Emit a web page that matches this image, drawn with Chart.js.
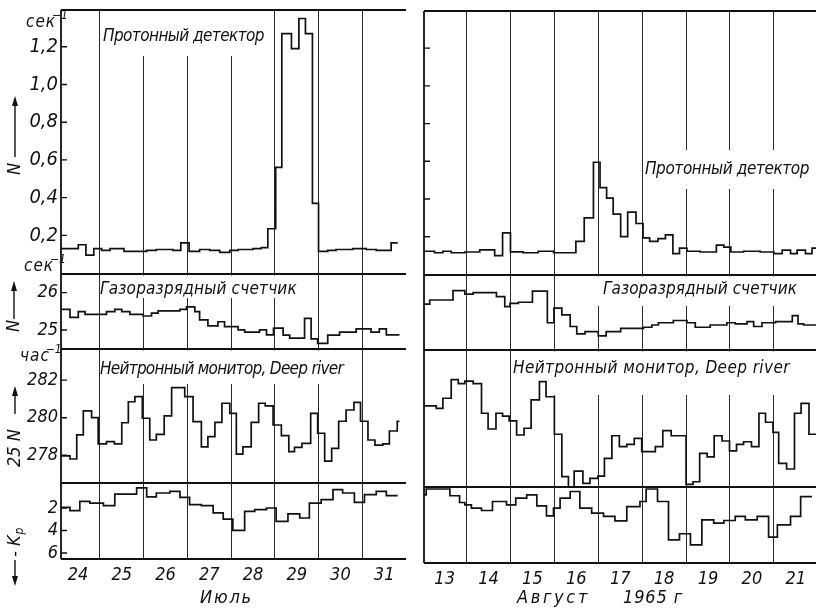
<!DOCTYPE html>
<html><head><meta charset="utf-8">
<script src="https://cdn.jsdelivr.net/npm/chart.js@4"></script>
<style>
html,body{margin:0;padding:0;background:#fff;}
body{width:816px;height:613px;position:relative;overflow:hidden;}
canvas{position:absolute;}
</style></head><body>
<script>
// ---------- data (x in calendar days, bins given by edges) ----------
const julyDayLabels = ['24','25','26','27','28','29','30','31'];
const augustDayLabels = ['13','14','15','16','17','18','19','20','21'];
const julyDayBoundaries = [25,26,27,28,29,30,31];
const augustDayBoundaries = [14,15,16,17,18,19,20,21];

const protonTickValues = [0.2,0.4,0.6,0.8,1.0,1.2];
const protonTickLabels = ['0,2','0,4','0,6','0,8','1,0','1,2'];
const gasTickValues = [25,26];
const gasTickLabels = ['25','26'];
const neutronTickValues = [278,280,282];
const neutronTickLabels = ['278','280','282'];
const kpTickValues = [2,4,6];
const kpTickLabels = ['2','4','6'];

// July — proton detector (sec^-1)
const julyProtonT = [24.11,24.505,24.68,24.86,25.04,25.23,25.55,26.07,26.29,26.67,26.85,27.04,27.28,27.51,27.74,27.97,28.16,28.5,28.69,28.84,29.02,29.16,29.38,29.55,29.70,29.86,30.0,30.21,30.40,30.78,31.09,31.32,31.66,31.81];
const julyProtonN = [0.13,0.15,0.095,0.13,0.12,0.13,0.115,0.12,0.125,0.12,0.16,0.115,0.125,0.12,0.11,0.12,0.125,0.13,0.135,0.235,0.56,1.27,1.19,1.35,1.27,0.37,0.115,0.12,0.125,0.13,0.125,0.12,0.16];
// August — proton detector
const augProtonT = [13.03,13.27,13.46,13.65,13.96,14.30,14.64,14.82,15.0,15.29,15.63,15.98,16.49,16.68,16.89,17.04,17.19,17.34,17.51,17.67,17.86,18.02,18.17,18.36,18.53,18.70,18.85,19.02,19.32,19.69,19.86,20.02,20.31,20.69,21.0,21.19,21.38,21.53,21.72,21.87,21.96];
const augProtonN = [0.123,0.115,0.123,0.115,0.119,0.13,0.10,0.22,0.12,0.115,0.123,0.115,0.175,0.30,0.595,0.46,0.405,0.32,0.20,0.33,0.27,0.194,0.175,0.19,0.21,0.11,0.14,0.123,0.119,0.155,0.145,0.119,0.123,0.119,0.11,0.129,0.11,0.129,0.11,0.14];

// Gas-discharge counter
const julyGasT = [24.11,24.315,24.505,24.66,25.15,25.34,25.50,25.685,25.99,26.18,26.33,26.83,26.98,27.17,27.28,27.47,27.70,27.85,28.16,28.31,28.65,28.81,28.97,29.19,29.34,29.68,29.83,29.98,30.21,30.48,30.86,31.20,31.39,31.55,31.85];
const julyGasN = [25.55,25.34,25.49,25.42,25.49,25.55,25.49,25.42,25.375,25.45,25.51,25.55,25.62,25.49,25.27,25.11,25.22,25.09,25.0,24.94,25.0,24.87,25.05,24.86,24.78,25.31,24.76,24.64,24.86,24.94,25.03,24.94,25.03,24.87];
const augGasT = [13.03,13.16,13.69,13.96,14.15,14.68,14.87,14.99,15.18,15.50,15.84,15.99,16.17,16.36,16.51,16.70,17.0,17.18,17.51,18.03,18.22,18.37,18.71,19.02,19.21,19.55,19.93,20.12,20.39,20.54,20.73,21.04,21.42,21.55,21.68,21.96];
const augGasN = [25.72,25.83,26.08,25.99,26.03,25.92,25.65,25.74,25.77,26.07,25.22,25.61,25.43,25.12,24.92,24.98,24.87,24.98,25.07,25.1,25.16,25.22,25.28,25.22,25.1,25.16,25.22,25.19,25.25,25.12,25.22,25.25,25.41,25.19,25.16];

// Neutron monitor, Deep River (25 N, hour^-1)
const julyNeutronT = [24.11,24.315,24.47,24.62,24.81,24.96,25.15,25.33,25.50,25.65,25.80,25.97,26.14,26.29,26.47,26.64,26.94,27.13,27.32,27.47,27.63,27.79,27.97,28.12,28.27,28.46,28.63,28.78,28.96,29.15,29.32,29.45,29.62,29.82,29.98,30.14,30.30,30.46,30.63,30.81,30.96,31.13,31.29,31.47,31.62,31.80,31.85];
const julyNeutronN = [277.96,277.8,279.08,280.36,280.0,278.6,278.72,278.6,279.73,280.85,281.12,279.97,278.81,279.11,280.1,281.6,281.12,279.79,278.45,278.99,279.75,280.77,280.23,278.06,278.45,279.75,280.77,280.63,279.61,279.04,278.19,278.42,278.63,280.23,279.17,277.69,278.37,279.81,280.41,280.82,279.81,278.81,278.54,278.6,279.29,279.81];
const augNeutronT = [13.03,13.31,13.46,13.65,13.81,13.96,14.15,14.34,14.49,14.67,14.82,14.97,15.14,15.31,15.47,15.66,15.81,16.0,16.17,16.32,16.45,16.65,16.81,16.99,17.14,17.31,17.48,17.65,17.82,17.99,18.30,18.47,18.66,19.0,19.16,19.31,19.48,19.64,19.82,19.99,20.15,20.31,20.49,20.66,20.81,20.98,21.11,21.29,21.47,21.62,21.80,21.96];
const augNeutronN = [280.75,280.62,281.16,282.15,281.94,282.07,281.94,280.36,279.52,280.36,280.21,279.95,279.2,279.56,281.07,282.04,281.24,279.24,276.98,276.44,277.28,276.62,276.89,277.01,277.96,279.16,278.58,278.7,279.02,278.31,278.58,279.43,279.16,276.57,276.71,278.22,278.04,279.16,278.88,278.35,278.7,278.84,278.58,280.36,279.88,279.34,277.69,277.39,280.36,280.89,279.24];

// Kp index
const julyKpT = [24.11,24.315,24.54,24.77,25.08,25.34,25.84,26.07,26.29,26.60,26.83,27.05,27.32,27.59,27.82,28.04,28.31,28.54,28.81,29.03,29.30,29.57,29.79,30.06,30.33,30.55,30.82,31.05,31.32,31.55,31.81];
const julyKp = [1.94,2.24,1.41,1.56,1.79,0.76,0.22,1.02,0.67,0.52,1.05,1.70,1.79,2.44,2.98,3.99,2.30,2.15,2.0,3.19,2.53,2.89,1.56,1.26,0.37,0.67,1.5,0.81,0.52,0.9];
const augKpT = [13.03,13.08,13.62,13.84,13.96,14.11,14.34,14.59,14.91,15.12,15.37,15.60,15.82,15.98,16.13,16.36,16.58,16.85,17.12,17.38,17.65,17.95,18.09,18.35,18.60,18.85,19.10,19.36,19.63,19.86,20.12,20.35,20.62,20.88,21.08,21.38,21.61,21.87];
const augKp = [0.52,0.0,0.6,1.2,1.41,1.7,1.91,1.11,1.41,0.81,0.52,1.49,2.38,1.7,0.81,0.22,1.7,2.15,2.44,2.83,1.56,1.11,0.0,1.11,4.52,3.98,4.96,2.74,3.04,2.8,2.44,2.74,2.44,4.28,3.18,2.44,0.67];

// ---------- drawing ----------
const FONT = '"Liberation Sans Narrow","DejaVu Sans Condensed","Liberation Sans","DejaVu Sans",sans-serif';
Chart.defaults.font.family = FONT;
Chart.defaults.font.style = 'italic';
Chart.defaults.color = '#111';

function steps(T, V) {
  const pts = [];
  for (let i = 0; i < V.length; i++) { pts.push({x: T[i], y: V[i]}); pts.push({x: T[i+1], y: V[i]}); }
  return pts;
}
function fitText(ctx, str, x0, x1, cy, size) {
  ctx.font = `italic ${size}px ${FONT}`;
  const has = ('letterSpacing' in ctx);
  if (has) ctx.letterSpacing = '0px';
  const w = ctx.measureText(str).width;
  const ls = (x1 - x0 - w) / str.length;
  if (has) ctx.letterSpacing = ls.toFixed(2) + 'px';
  ctx.textAlign = 'left'; ctx.textBaseline = 'middle';
  ctx.fillText(str, x0, cy);
  if (has) ctx.letterSpacing = '0px';
}
function unitText(ctx, base, x, baseline, size) {
  ctx.font = `italic ${size}px ${FONT}`;
  ctx.textAlign = 'left'; ctx.textBaseline = 'alphabetic';
  if ('letterSpacing' in ctx) ctx.letterSpacing = '1px';
  ctx.fillText(base, x, baseline);
  const w = ctx.measureText(base).width;
  if ('letterSpacing' in ctx) ctx.letterSpacing = '0px';
  ctx.font = `italic ${Math.round(size*0.72)}px ${FONT}`;
  ctx.fillText('\u22121', x + w - 4, baseline - size*0.5);
}
function rotText(ctx, x, yStart, str, size) {
  ctx.save(); ctx.translate(x, yStart); ctx.rotate(-Math.PI/2);
  ctx.font = `italic ${size}px ${FONT}`; ctx.textAlign = 'left'; ctx.textBaseline = 'middle';
  ctx.fillText(str, 0, 0);
  const w = ctx.measureText(str).width;
  ctx.restore();
  return w;
}
function vArrow(ctx, x, yFrom, yTo) {
  const d = yTo < yFrom ? 1 : -1;
  ctx.lineWidth = 1.4;
  ctx.beginPath(); ctx.moveTo(x, yFrom); ctx.lineTo(x, yTo + d*4); ctx.stroke();
  ctx.beginPath(); ctx.moveTo(x, yTo); ctx.lineTo(x - 3, yTo + d*10); ctx.lineTo(x + 3, yTo + d*10); ctx.closePath(); ctx.fill();
}

const COLS = {
  left:  {left: 0,   width: 410, axisW: 61, padR: 4, xmin: 24.11, xmax: 32.0,  grid: julyDayBoundaries,   days: julyDayLabels,   firstDay: 24},
  right: {left: 410, width: 406, axisW: 14, padR: 0, xmin: 13.03, xmax: 21.96, grid: augustDayBoundaries, days: augustDayLabels, firstDay: 13}
};

function makePanel(col, p) {
  const PAD = 22;
  const cTop = p.top - PAD;
  const cBottom = p.xLabels ? p.canvasBottom : p.bottom + PAD;
  const H = cBottom - cTop;
  const cv = document.createElement('canvas');
  cv.width = col.width; cv.height = H;
  cv.style.left = col.left + 'px'; cv.style.top = cTop + 'px';
  cv.style.width = col.width + 'px'; cv.style.height = H + 'px';
  document.body.appendChild(cv);
  const toPage = ctx => ctx.translate(-col.left, -cTop);

  const scales = {
    x: {type: 'linear', position: 'bottom', min: col.xmin, max: col.xmax,
        afterFit(s) { s.height = 0; },
        afterBuildTicks(s) { s.ticks = col.grid.map(v => ({value: v})); },
        ticks: {display: false}, border: {display: false},
        grid: {display: true, drawTicks: false, color: '#2a2a2a', lineWidth: 1}},
    y: {type: 'linear', position: 'left', min: p.ymin, max: p.ymax, reverse: !!p.reverse,
        afterFit(s) { s.width = col.axisW; },
        afterBuildTicks(s) { s.ticks = (p.tickValues || []).map(v => ({value: v})); },
        ticks: {display: !!p.tickLabels, padding: 3, color: '#111',
                font: {size: p.tickSize || 18, style: 'italic', family: FONT},
                callback: (v, i) => p.tickLabels ? p.tickLabels[i] : ''},
        grid: {display: false, drawTicks: false}, border: {display: false}}
  };
  if (p.xLabels) {
    scales.x2 = {type: 'linear', position: 'bottom', min: col.xmin, max: col.xmax,
      afterFit(s) { s.height = p.canvasBottom - p.bottom; },
      afterBuildTicks(s) { s.ticks = col.days.map((l, i) => ({value: col.firstDay + i + 0.5})); },
      ticks: {padding: 6, autoSkip: false, maxRotation: 0, color: '#111',
              font: {size: 18, style: 'italic', family: FONT},
              callback: (v, i) => col.days[i]},
      grid: {display: false, drawTicks: false}, border: {display: false}};
  }

  new Chart(cv, {
    type: 'line',
    data: {datasets: [{data: steps(p.T, p.V), borderColor: '#111', borderWidth: 1.7,
                       pointRadius: 0, tension: 0, fill: false, borderJoinStyle: 'miter'}]},
    options: {
      responsive: false, animation: false, devicePixelRatio: 1, events: [],
      layout: {padding: {top: PAD, bottom: p.xLabels ? 0 : PAD, left: 0, right: col.padR}},
      plugins: {legend: {display: false}, tooltip: {enabled: false}},
      scales
    },
    plugins: [{
      id: 'deco',
      beforeDatasetsDraw(chart) {
        const ctx = chart.ctx; ctx.save(); toPage(ctx);
        ctx.fillStyle = '#fff';
        (p.boxes || []).forEach(b => ctx.fillRect(b[0], b[1], b[2]-b[0], b[3]-b[1]));
        ctx.fillStyle = '#111';
        (p.labels || []).forEach(l => fitText(ctx, l.text, l.x0, l.x1, l.cy, l.size));
        ctx.restore();
      },
      afterDatasetsDraw(chart) {
        const {ctx, chartArea: a, scales: sc} = chart;
        ctx.save();
        ctx.strokeStyle = '#111'; ctx.lineWidth = 1.8;
        ctx.beginPath();
        ctx.moveTo(a.left, a.top); ctx.lineTo(a.left, a.bottom);
        if (p.frameTop) { ctx.moveTo(a.left, a.top); ctx.lineTo(a.right, a.top); }
        ctx.moveTo(a.left, a.bottom); ctx.lineTo(a.right, a.bottom);
        ctx.stroke();
        ctx.lineWidth = 1.4; ctx.beginPath();
        (p.tickMarks || []).forEach(v => { const y = sc.y.getPixelForValue(v); ctx.moveTo(a.left, y); ctx.lineTo(a.left + 6, y); });
        ctx.stroke();
        ctx.restore();
        if (p.after) { ctx.save(); toPage(ctx); ctx.fillStyle = '#111'; ctx.strokeStyle = '#111'; p.after(ctx); ctx.restore(); }
      }
    }]
  });
}

// ----- left column (July) -----
makePanel(COLS.left, {top: 10, bottom: 274, ymin: -0.005, ymax: 1.395, T: julyProtonT, V: julyProtonN,
  tickValues: protonTickValues, tickLabels: protonTickLabels, tickMarks: protonTickValues, tickSize: 20, frameTop: true,
  boxes: [[101, 11, 268, 56]],
  labels: [{text: 'Протонный детектор', x0: 103, x1: 264, cy: 37, size: 17}],
  after(ctx) {
    unitText(ctx, 'сек', 26, 27, 17);
    unitText(ctx, 'сек', 24, 271, 17);
    rotText(ctx, 15, 175, 'N', 18);
    vArrow(ctx, 15, 157, 96);
  }});
makePanel(COLS.left, {top: 274, bottom: 349, ymin: 24.49, ymax: 26.50, T: julyGasT, V: julyGasN,
  tickValues: gasTickValues, tickLabels: gasTickLabels, tickMarks: gasTickValues,
  boxes: [[101, 275.5, 300, 298]],
  labels: [{text: 'Газоразрядный счетчик', x0: 100, x1: 297, cy: 290, size: 17}],
  after(ctx) {
    rotText(ctx, 14, 332, 'N', 18);
    vArrow(ctx, 14, 319, 281);
  }});
makePanel(COLS.left, {top: 349, bottom: 483, ymin: 276.52, ymax: 283.66, T: julyNeutronT, V: julyNeutronN,
  tickValues: neutronTickValues, tickLabels: neutronTickLabels, tickMarks: neutronTickValues,
  boxes: [[101, 350.5, 346, 384]],
  labels: [{text: 'Нейтронный монитор, Deep river', x0: 100, x1: 343, cy: 370, size: 17}],
  after(ctx) {
    unitText(ctx, 'час', 20, 361, 17);
    rotText(ctx, 15, 467, '25 N', 18);
    vArrow(ctx, 15, 414, 386);
  }});
makePanel(COLS.left, {top: 483, bottom: 559, canvasBottom: 613, xLabels: true, ymin: -0.22, ymax: 6.53, reverse: true,
  T: julyKpT, V: julyKp, tickValues: kpTickValues, tickLabels: kpTickLabels, tickMarks: kpTickValues,
  after(ctx) {
    vArrow(ctx, 15, 560, 586);
    const w = rotText(ctx, 15, 557, '- K', 18);
    ctx.save(); ctx.translate(15, 557 - w); ctx.rotate(-Math.PI/2);
    ctx.font = `italic 12px ${FONT}`; ctx.textBaseline = 'middle'; ctx.textAlign = 'left';
    ctx.fillText('p', 1, 5); ctx.restore();
    fitText(ctx, 'Июль', 200, 253, 598, 18);
  }});

// ----- right column (August) -----
makePanel(COLS.right, {top: 11, bottom: 275, ymin: -0.003, ymax: 1.397, T: augProtonT, V: augProtonN,
  tickValues: protonTickValues, tickMarks: protonTickValues, frameTop: true,
  boxes: [[644, 150, 812, 189]],
  labels: [{text: 'Протонный детектор', x0: 645, x1: 809, cy: 170, size: 17}]});
makePanel(COLS.right, {top: 275, bottom: 350, ymin: 24.49, ymax: 26.50, T: augGasT, V: augGasN,
  boxes: [[595, 276.5, 812, 306]],
  labels: [{text: 'Газоразрядный счетчик', x0: 603, x1: 797, cy: 290, size: 17}]});
makePanel(COLS.right, {top: 350, bottom: 487, ymin: 276.43, ymax: 283.73, T: augNeutronT, V: augNeutronN,
  boxes: [[512, 351.5, 816, 395]],
  labels: [{text: 'Нейтронный монитор, Deep river', x0: 513, x1: 790, cy: 369, size: 17}]});
makePanel(COLS.right, {top: 487, bottom: 563, canvasBottom: 613, xLabels: true, ymin: -0.18, ymax: 6.58, reverse: true,
  T: augKpT, V: augKp,
  after(ctx) {
    fitText(ctx, 'Август', 517, 590, 598, 18);
    fitText(ctx, '1965 г', 623, 683, 598, 18);
  }});
</script>
</body></html>
